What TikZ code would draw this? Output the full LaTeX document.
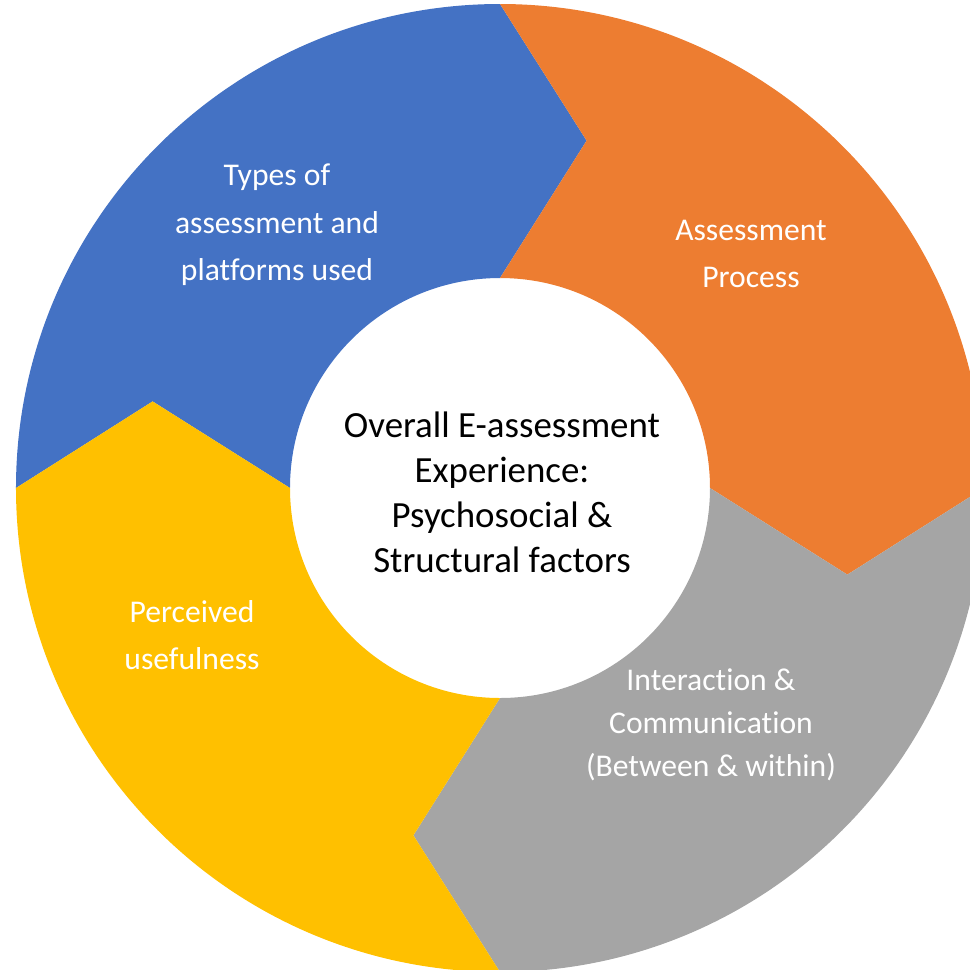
\documentclass[tikz,border=0pt]{standalone}
\usepackage{fontspec}
\setmainfont{Carlito}[Ligatures=NoCommon]
\definecolor{segblue}{HTML}{4472C4}
\definecolor{segorange}{HTML}{ED7D31}
\definecolor{seggray}{HTML}{A5A5A5}
\definecolor{segyellow}{HTML}{FFC000}
\tikzset{
  seglabel/.style={text=white, align=center, font=\fontsize{9}{13.5}\selectfont},
  centrelabel/.style={text=black, align=center, font=\fontsize{10.5}{12.8}\selectfont}
}
\begin{document}
\begin{tikzpicture}  % ------ cycle en quatre segments  --------------
    \useasboundingbox (-5.00,-4.81) rectangle (4.70,4.88);
    \def\Rext{4.84} \def\Rint{2.10} \def\Rtip{3.58}

    \foreach \a/\col in {180/segblue, 90/segorange, 0/seggray, -90/segyellow}
      \fill[\col] (\a:\Rext) arc[start angle=\a, end angle=\a-90, radius=\Rext]
          -- (\a-104:\Rtip) -- (\a-90:\Rint)
          arc[start angle=\a-90, end angle=\a, radius=\Rint]
          -- (\a-14:\Rtip) -- cycle ;

    \node[seglabel] (types) at (-2.23,2.63) {Types of\\assessment and\\platforms used};
    \node[seglabel] (process) at (2.51,2.34) {Assessment\\Process};
    \node[seglabel, font=\fontsize{9}{12.3}\selectfont] (interaction) at (2.11,-2.37)
        {Interaction \&\\Communication\\(Between \& within)};
    \node[seglabel] (useful) at (-3.08,-1.47) {Perceived\\usefulness};

    \node[centrelabel] (centre) at (0.02,-0.04)
        {Overall E-assessment\\Experience:\\Psychosocial \&\\Structural factors};
\end{tikzpicture}
\end{document}
